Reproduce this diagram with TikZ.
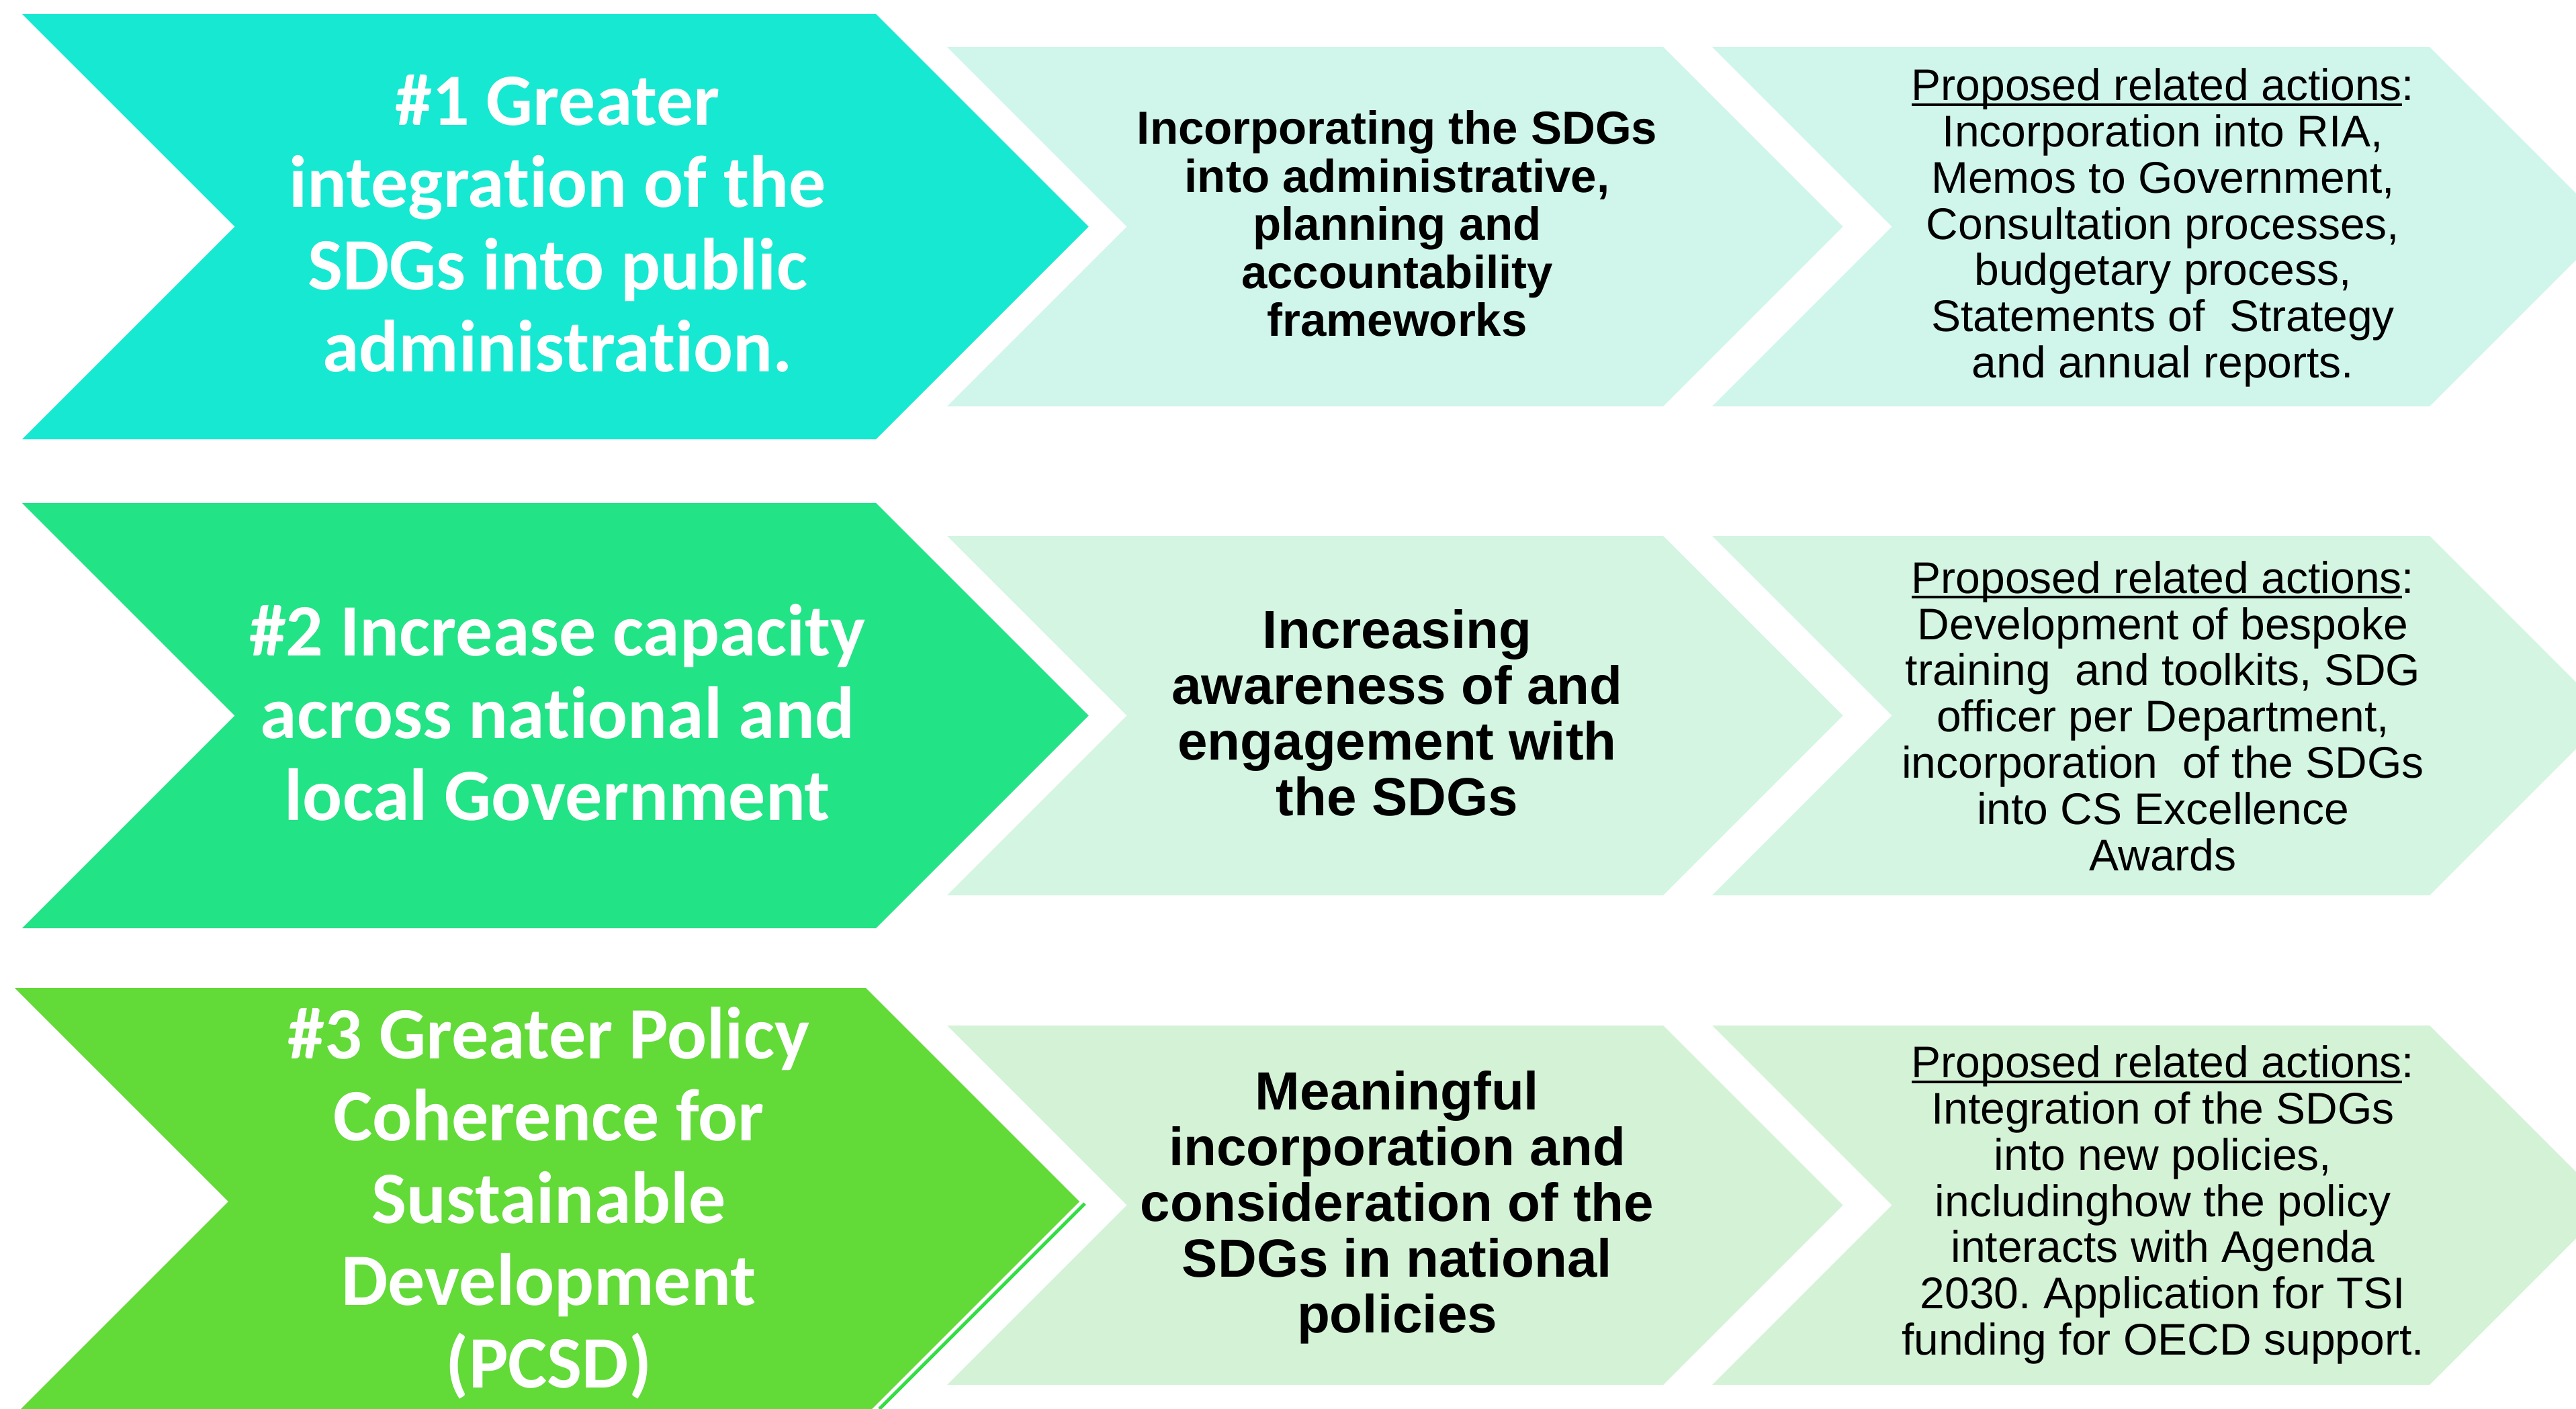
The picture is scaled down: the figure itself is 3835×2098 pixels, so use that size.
\documentclass[tikz,border=0pt]{standalone}
\usepackage{fontspec}
\newfontfamily\carl{Carlito}[Ligatures=NoCommon]
\newfontfamily\arialf{Liberation Sans}
\definecolor{bigA}{HTML}{17E8D1}
\definecolor{bigB}{HTML}{22E385}
\definecolor{bigC}{HTML}{62DA38}
\definecolor{litA}{HTML}{D0F5EB}
\definecolor{litB}{HTML}{D3F5E2}
\definecolor{litC}{HTML}{D4F2D6}
\definecolor{edgeC}{HTML}{33DD44}
\newsavebox\ulbox
\newcommand\myul[1]{\sbox\ulbox{#1}\rlap{\rule[-0.12em]{\wd\ulbox}{0.055em}}\usebox\ulbox}
\frenchspacing
\tikzset{
  bigtext/.style={align=center, text=white, font=\carl\bfseries\fontsize{110}{122.5}\selectfont, inner sep=0pt},
  midtext/.style={align=center, text=black, font=\arialf\bfseries\fontsize{80}{83}\selectfont, inner sep=0pt},
  midtextsmall/.style={align=center, text=black, font=\arialf\bfseries\fontsize{69}{71.5}\selectfont, inner sep=0pt},
  acttext/.style={align=center, text=black, font=\arialf\fontsize{66}{68.8}\selectfont, inner sep=0pt},
}
% chevron: #1 colour, #2 left x, #3 right-top x, #4 top y, #5 bottom y
\newcommand\chev[5]{%
  \pgfmathsetmacro\hh{(#5-#4)/2}%
  \fill[#1] (#2,#4) -- (#3,#4) -- ({#3+\hh},{#4+\hh}) -- (#3,#5) -- (#2,#5) -- ({#2+\hh},{#4+\hh}) -- cycle;}
\begin{document}
\begin{tikzpicture}[x=1pt,y=-1pt]
\useasboundingbox (0,0) rectangle (3835,2098);
\clip (0,0) rectangle (3835,2098);
% row 1
\chev{bigA}{33}{1304}{21}{654}
\chev{litA}{1410}{2476}{70}{605}
\chev{litA}{2549}{3617}{70}{605}
% row 2
\chev{bigB}{33}{1304}{749}{1382}
\chev{litB}{1410}{2476}{798}{1333}
\chev{litB}{2549}{3617}{798}{1333}
% row 3
\chev{bigC}{22}{1289}{1471}{2107}
\coordinate (e1) at (1615,1792);
\coordinate (e2) at (1309,2098);
\draw[edgeC, line width=5pt] (e1) -- (e2);
\chev{litC}{1410}{2476}{1527}{2062}
\chev{litC}{2549}{3617}{1527}{2062}
% texts
\node[bigtext] (b1) at (830,333) {\#1 Greater\\integration of the\\SDGs into public\\administration.};
\node[bigtext] (b2) at (830,1061) {\#2 Increase capacity\\across national and\\local Government};
\node[bigtext] (b3) at (817,1791) {\#3 Greater Policy\\Coherence for\\Sustainable\\Development\\(PCSD)};
\node[midtextsmall] (m1) at (2080,333) {Incorporating the SDGs\\into administrative,\\planning and\\accountability\\frameworks};
\node[midtext] (m2) at (2080,1061) {Increasing\\awareness of and\\engagement with\\the SDGs};
\node[midtext] (m3) at (2080,1798) {Meaningful\\incorporation and\\consideration of the\\SDGs in national\\policies};
\node[acttext] (a1) at (3220,339) {\myul{Proposed related actions}:\\Incorporation into RIA,\\Memos to Government,\\Consultation processes,\\budgetary process,\\Statements of~ Strategy\\and annual reports.};
\node[acttext] (a2) at (3220,1066) {\myul{Proposed related actions}:\\Development of bespoke\\training~ and toolkits, SDG\\officer per Department,\\incorporation~ of the SDGs\\into CS Excellence\\Awards};
\node[acttext] (a3) at (3220,1794) {\myul{Proposed related actions}:\\Integration of the SDGs\\into new policies,\\includinghow the policy\\interacts with Agenda\\2030. Application for TSI\\funding for OECD support.};
\end{tikzpicture}
\end{document}
